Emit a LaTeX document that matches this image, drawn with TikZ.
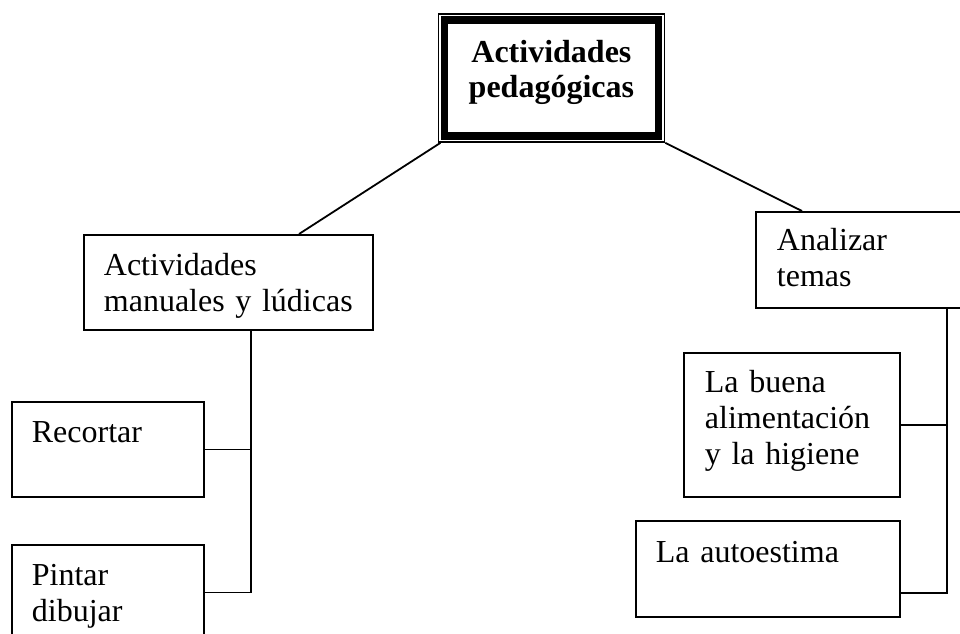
\documentclass[tikz,border=0pt]{standalone}
\usepackage{fontspec}
\setmainfont{Liberation Serif}
\begin{document}
\begin{tikzpicture}[x=1pt,y=-1pt,line width=1.8pt,
  caja/.style={draw,anchor=north west,inner xsep=20pt,inner ysep=0pt,align=left,
               font=\fontsize{32}{36}\selectfont},
  titulo/.style={draw,anchor=north west,inner xsep=10pt,inner ysep=0pt,align=center,
               font=\fontsize{32}{35}\selectfont\bfseries}]
\useasboundingbox (0,0) rectangle (960,633);
\clip (0,0) rectangle (960,633);

\node[titulo,text width=206pt,text height=49pt,text depth=79pt] (top) at (437.5,13) {Actividades\\pedagógicas};
\draw[line width=7.5pt] ([shift={(6.8,6.8)}]top.north west) rectangle ([shift={(-6.8,-6.8)}]top.south east);

\node[caja,text width=249pt,text height=41pt,text depth=54pt] (manual) at (83,234) {Actividades\\manuales y lúdicas};
\node[caja,text width=152pt,text height=41pt,text depth=54pt] (recortar) at (11,401) {Recortar};
\node[caja,text width=152pt,text height=41pt,text depth=54pt] (pintar) at (11,544) {Pintar\\dibujar};

\node[caja,inner xsep=21pt,text width=178pt,text height=39pt,text depth=57pt] (analizar) at (755,211) {Analizar\\temas};
\node[caja,inner xsep=21pt,text width=174pt,text height=40pt,text depth=104pt] (buena) at (683,352) {La buena\\alimentación\\y la higiene};
\node[caja,text width=224pt,text height=42pt,text depth=54pt] (autoestima) at (635,520) {La autoestima};

\draw ([xshift=3pt]top.south west) -- ([xshift=216pt]manual.north west);
\draw (top.south east) -- ([xshift=47pt]analizar.north west);

\coordinate (ltronco) at ([xshift=168pt]manual.south west);
\draw (ltronco) |- (pintar.east);
\draw (recortar.east) -- (recortar.east -| ltronco);

\coordinate (rtronco) at ([xshift=192pt]analizar.south west);
\draw (rtronco) |- ([yshift=-24pt]autoestima.east);
\draw (buena.east) -- (buena.east -| rtronco);
\end{tikzpicture}
\end{document}
